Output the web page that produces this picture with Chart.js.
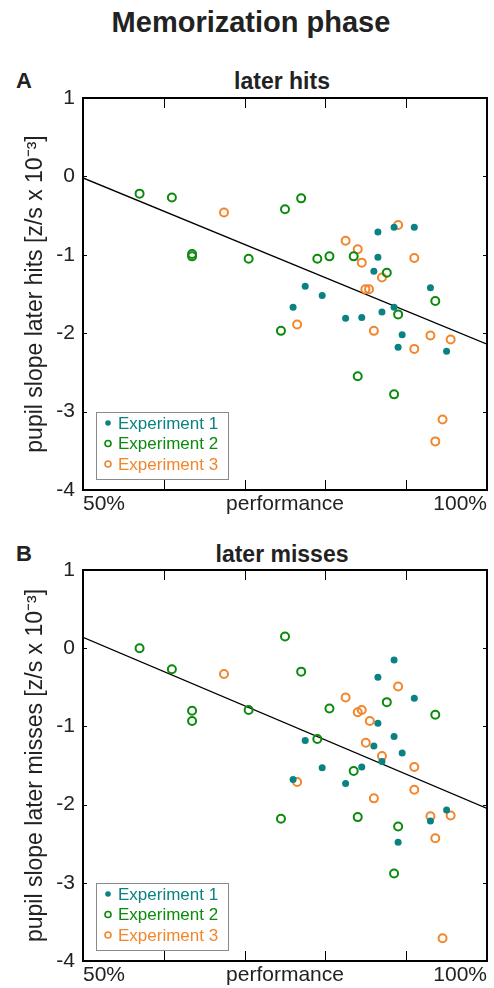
<!DOCTYPE html>
<html>
<head>
<meta charset="utf-8">
<script src="https://cdn.jsdelivr.net/npm/chart.js@4.4.1/dist/chart.umd.min.js"></script>
<style>
    body { margin: 0; background: #fff; width: 494px; height: 988px; position: relative; overflow: hidden;
           font-family: "Liberation Sans", Arial, sans-serif; color: #222; }
    .lbl { position: absolute; font-weight: bold; white-space: nowrap; line-height: 1; }
    .center { transform: translateX(-50%); }
    canvas { position: absolute; left: 0; }
</style>
</head>
<body>
<div class="lbl center" style="left:251px; top:7.5px; font-size:29px;">Memorization phase</div>
<div class="lbl" style="left:16px; top:70px; font-size:22px;">A</div>
<div class="lbl center" style="left:282px; top:69.5px; font-size:23px;">later hits</div>
<div class="lbl" style="left:16px; top:543px; font-size:22px;">B</div>
<div class="lbl center" style="left:282px; top:542.5px; font-size:23px;">later misses</div>

<canvas id="hitsChart" width="494" height="530" style="top:0"></canvas>
<canvas id="missesChart" width="494" height="458" style="top:530px"></canvas>

<script>
const seriesNames = ["Experiment 1", "Experiment 2", "Experiment 3"];
const seriesColors = ["#0a8282", "#0b8a0b", "#f2862c"];

// x axis: performance (%)
const xLabelTicks = [50, 75, 100];
const xLabelText = ["50%", "performance", "100%"];
const xTickMarks = [60, 70, 80, 90];
const yTickMarks = [0, -1, -2, -3];

// later hits
const hitsExp1X = [76.0, 77.5, 79.6, 82.5, 84.5, 86.0, 86.5, 86.5, 87.0, 88.5, 88.5, 89.0, 89.5, 91.0, 93.0, 95.0];
const hitsExp1Y = [-1.67, -1.40, -1.52, -1.81, -1.80, -1.21, -0.71, -1.03, -1.73, -0.65, -1.67, -2.18, -2.02, -0.65, -1.42, -2.23];
const hitsExp2X = [57.0, 61.0, 63.5, 63.5, 70.5, 74.5, 75.0, 77.0, 79.0, 80.5, 83.5, 84.0, 87.6, 88.5, 89.0, 93.6];
const hitsExp2Y = [-0.22, -0.27, -0.99, -1.02, -1.05, -1.97, -0.42, -0.28, -1.05, -1.02, -1.02, -2.55, -1.23, -2.78, -1.76, -1.59];
const hitsExp3X = [67.45, 76.5, 82.5, 84.0, 84.5, 84.95, 85.4, 86.0, 87.0, 89.0, 91.0, 91.0, 93.0, 93.6, 94.5, 95.5];
const hitsExp3Y = [-0.46, -1.89, -0.82, -0.93, -1.10, -1.44, -1.44, -1.97, -1.29, -0.62, -1.04, -2.20, -2.03, -3.38, -3.10, -2.08];

// later misses
const missesExp1X = [76.0, 77.5, 79.6, 82.5, 84.5, 86.0, 86.5, 86.5, 87.0, 88.5, 88.5, 89.0, 89.5, 91.0, 93.0, 95.0];
const missesExp1Y = [-1.68, -1.18, -1.53, -1.73, -1.52, -1.25, -0.37, -0.96, -1.45, -0.15, -1.13, -2.48, -1.34, -0.64, -2.21, -2.07];
const missesExp2X = [57.0, 61.0, 63.5, 63.5, 70.5, 74.5, 75.0, 77.0, 79.0, 80.5, 83.5, 84.0, 87.6, 88.5, 89.0, 93.6];
const missesExp2Y = [0.0, -0.27, -0.80, -0.93, -0.79, -2.18, 0.15, -0.30, -1.16, -0.77, -1.57, -2.16, -0.69, -2.88, -2.28, -0.85];
const missesExp3X = [67.45, 76.5, 82.5, 84.0, 84.5, 85.0, 85.5, 86.0, 87.0, 89.0, 91.0, 91.0, 93.0, 93.6, 94.5, 95.5];
const missesExp3Y = [-0.33, -1.71, -0.63, -0.82, -0.79, -1.21, -0.93, -1.92, -1.38, -0.49, -1.52, -1.81, -2.15, -2.43, -3.71, -2.14];

// regression lines
const fitX = [50, 100];
const hitsFitY = [-0.02, -2.14];
const missesFitY = [0.14, -2.05];

function toPoints(xs, ys) {
    return xs.map((x, i) => ({ x: x, y: ys[i] }));
}

function makeDatasets(xsList, ysList, fitY) {
    const sets = xsList.map((xs, i) => {
        const filled = i === 0;
        return {
            label: seriesNames[i],
            data: toPoints(xs, ysList[i]),
            backgroundColor: filled ? seriesColors[i] : "rgba(0,0,0,0)",
            borderColor: seriesColors[i],
            borderWidth: filled ? 0 : 2,
            pointRadius: filled ? 3.5 : 4,
            pointStyle: "circle",
            order: 1
        };
    });
    sets.push({
        type: "line",
        label: "fit",
        data: toPoints(fitX, fitY),
        borderColor: "#000",
        borderWidth: 1.3,
        pointRadius: 0,
        order: 10
    });
    return sets;
}

// frame with inward ticks, like the original
const frameTicks = {
    id: "frameTicks",
    afterDatasetsDraw(chart) {
        const { ctx, chartArea: a, scales: { x, y } } = chart;
        ctx.save();
        ctx.strokeStyle = "#000";
        ctx.lineWidth = 1;
        ctx.beginPath();
        xTickMarks.forEach(v => {
            const px = Math.round(x.getPixelForValue(v)) + 0.5;
            ctx.moveTo(px, a.top); ctx.lineTo(px, a.top + 10);
            ctx.moveTo(px, a.bottom); ctx.lineTo(px, a.bottom - 10);
        });
        yTickMarks.forEach(v => {
            const py = Math.round(y.getPixelForValue(v)) + 0.5;
            ctx.moveTo(a.left, py); ctx.lineTo(a.left + 4, py);
            ctx.moveTo(a.right, py); ctx.lineTo(a.right - 4, py);
        });
        ctx.stroke();
        ctx.lineWidth = 2;
        ctx.strokeRect(a.left, a.top, a.width, a.height);
        ctx.restore();
    }
};

// legend box in the lower left corner of the plot
const cornerLegend = {
    id: "cornerLegend",
    afterDraw(chart) {
        const { ctx, chartArea: a } = chart;
        const w = 132, h = 67;
        const left = a.left + 13, top = a.bottom - 11 - h;
        ctx.save();
        ctx.fillStyle = "#fff";
        ctx.fillRect(left, top, w, h);
        ctx.strokeStyle = "#8a8a8a";
        ctx.lineWidth = 1;
        ctx.strokeRect(left + 0.5, top + 0.5, w, h);
        ctx.font = "17px 'Liberation Sans', Arial, sans-serif";
        ctx.textBaseline = "middle";
        chart.data.datasets.slice(0, 3).forEach((ds, i) => {
            const cy = top + 11 + i * 20.5;
            ctx.beginPath();
            if (i === 0) {
                ctx.fillStyle = ds.borderColor;
                ctx.arc(left + 12, cy, 2.8, 0, Math.PI * 2);
                ctx.fill();
            } else {
                ctx.strokeStyle = ds.borderColor;
                ctx.lineWidth = 1.6;
                ctx.arc(left + 12, cy, 3, 0, Math.PI * 2);
                ctx.stroke();
            }
            ctx.fillStyle = ds.borderColor;
            ctx.fillText(ds.label, left + 22, cy + 1);
        });
        ctx.restore();
    }
};

function makeChart(id, datasets, yTitle, padTop, xHeight) {
    return new Chart(document.getElementById(id), {
        type: "scatter",
        data: { datasets },
        plugins: [frameTicks, cornerLegend],
        options: {
            responsive: false,
            animation: false,
            devicePixelRatio: 1,
            layout: { padding: { top: padTop, right: 7, left: 0, bottom: 0 } },
            plugins: {
                legend: { display: false },
                tooltip: { enabled: false },
                title: { display: false }
            },
            scales: {
                x: {
                    type: "linear",
                    min: 50,
                    max: 100,
                    afterBuildTicks: (s) => { s.ticks = xLabelTicks.map(v => ({ value: v })); },
                    afterFit: (s) => { s.height = xHeight; },
                    grid: { display: false, drawTicks: false },
                    border: { display: false },
                    ticks: {
                        align: "inner",
                        autoSkip: false,
                        maxRotation: 0,
                        padding: 2,
                        color: "#222",
                        font: { family: "'Liberation Sans', Arial, sans-serif", size: 21 },
                        callback: (v, i) => xLabelText[i]
                    }
                },
                y: {
                    type: "linear",
                    min: -4,
                    max: 1,
                    afterFit: (s) => { s.width = 83; },
                    grid: { display: false, drawTicks: false },
                    border: { display: false },
                    ticks: {
                        stepSize: 1,
                        padding: 8,
                        color: "#222",
                        font: { family: "'Liberation Sans', Arial, sans-serif", size: 21 }
                    },
                    title: {
                        display: true,
                        text: yTitle,
                        color: "#222",
                        padding: { top: 22, bottom: 0 },
                        font: { family: "'Liberation Sans', Arial, sans-serif", size: 23 }
                    }
                }
            }
        }
    });
}

makeChart("hitsChart",
    makeDatasets([hitsExp1X, hitsExp2X, hitsExp3X], [hitsExp1Y, hitsExp2Y, hitsExp3Y], hitsFitY),
    "pupil slope later hits [z/s x 10\u207B\u00B3]", 98, 40);

makeChart("missesChart",
    makeDatasets([missesExp1X, missesExp2X, missesExp3X], [missesExp1Y, missesExp2Y, missesExp3Y], missesFitY),
    "pupil slope later misses [z/s x 10\u207B\u00B3]", 40, 27);
</script>
</body>
</html>
